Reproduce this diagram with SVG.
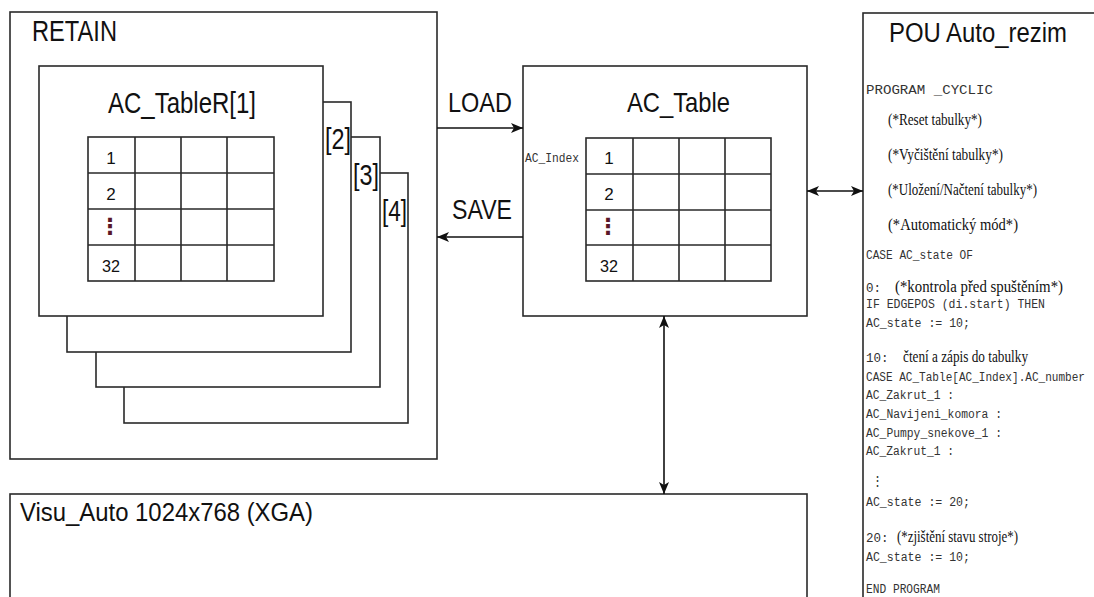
<svg xmlns="http://www.w3.org/2000/svg" width="1094" height="597" viewBox="0 0 1094 597">
<style>
.box{fill:#fff;stroke:#2a2a2a;stroke-width:1.6}
.grid{fill:none;stroke:#2a2a2a;stroke-width:1.6}
.t{font-family:"Liberation Sans",Arial,sans-serif;fill:#111}
.big{font-size:29px}
.num{font-size:17px;text-anchor:middle}
.dots{font-family:"DejaVu Sans",sans-serif;font-size:22px;fill:#5a1628;text-anchor:middle;font-weight:bold}
.m{font-family:"Liberation Mono","Courier New",monospace;font-size:12.5px;fill:#333}
.s{font-family:"Liberation Serif","Times New Roman",serif;font-size:16px;fill:#111}
.c{fill:none;stroke:#111;stroke-width:1.6}
</style>
<defs>
<marker id="ah" viewBox="0 0 12 10" refX="12" refY="5" markerWidth="12" markerHeight="10" markerUnits="userSpaceOnUse" orient="auto-start-reverse">
<path d="M0,0 L12,5 L0,10 L3,5 Z" fill="#111"/>
</marker>
</defs>
<rect width="1094" height="597" fill="#fff"/>

<g id="retain">
<rect class="box" x="10" y="12" width="427" height="447"/>
<text class="t big" x="32" y="41" textLength="85" lengthAdjust="spacingAndGlyphs">RETAIN</text>
</g>

<g id="tableR4">
<rect class="box" x="124" y="173" width="284" height="250"/>
<text class="t big" x="382" y="221" textLength="25" lengthAdjust="spacingAndGlyphs">[4]</text>
</g>
<g id="tableR3">
<rect class="box" x="96" y="137" width="284" height="250"/>
<text class="t big" x="353" y="185" textLength="26" lengthAdjust="spacingAndGlyphs">[3]</text>
</g>
<g id="tableR2">
<rect class="box" x="67" y="102" width="284" height="250"/>
<text class="t big" x="325" y="149" textLength="26" lengthAdjust="spacingAndGlyphs">[2]</text>
</g>
<g id="tableR1">
<rect class="box" x="39" y="66" width="284" height="250"/>
<text class="t big" x="108" y="113" textLength="148" lengthAdjust="spacingAndGlyphs">AC_TableR[1]</text>
<rect class="grid" x="88" y="137" width="186" height="144"/>
<path class="grid" d="M135,137V281M181,137V281M227,137V281M88,173H274M88,209H274M88,245H274"/>
<text class="t num" x="111" y="164">1</text>
<text class="t num" x="111" y="200">2</text>
<text class="dots" x="110" y="234">⋮</text>
<text class="t num" x="111" y="272" textLength="18" lengthAdjust="spacingAndGlyphs">32</text>
</g>

<g id="acTable">
<rect class="box" x="523" y="66" width="284" height="250"/>
<text class="t" x="627" y="112" font-size="28" textLength="103" lengthAdjust="spacingAndGlyphs">AC_Table</text>
<text class="m" x="525" y="162" font-size="11" textLength="54" lengthAdjust="spacingAndGlyphs">AC_Index</text>
<rect class="grid" x="586" y="138" width="185" height="143"/>
<path class="grid" d="M633,138V281M679,138V281M725,138V281M586,174H771M586,210H771M586,245H771"/>
<text class="t num" x="609" y="164">1</text>
<text class="t num" x="609" y="200">2</text>
<text class="dots" x="608" y="234">⋮</text>
<text class="t num" x="609" y="272" textLength="18" lengthAdjust="spacingAndGlyphs">32</text>
</g>

<g id="pou">
<rect class="box" x="863" y="13" width="260" height="620"/>
<text class="t" x="889" y="42" font-size="27" textLength="178" lengthAdjust="spacingAndGlyphs">POU Auto_rezim</text>
<text class="m" x="866" y="94" font-size="14.5" textLength="127" lengthAdjust="spacingAndGlyphs">PROGRAM _CYCLIC</text>
<text class="s" x="888" y="125" textLength="94" lengthAdjust="spacingAndGlyphs">(*Reset tabulky*)</text>
<text class="s" x="888" y="160" textLength="115" lengthAdjust="spacingAndGlyphs">(*Vyčištění tabulky*)</text>
<text class="s" x="888" y="195" textLength="149" lengthAdjust="spacingAndGlyphs">(*Uložení/Načtení tabulky*)</text>
<text class="s" x="888" y="230" textLength="130" lengthAdjust="spacingAndGlyphs">(*Automatický mód*)</text>
<text class="m" x="866" y="259" textLength="107" lengthAdjust="spacingAndGlyphs">CASE AC_state OF</text>
<text class="m" x="866" y="292">0:</text>
<text class="s" x="895" y="292" textLength="168" lengthAdjust="spacingAndGlyphs">(*kontrola před spuštěním*)</text>
<text class="m" x="866" y="308" textLength="179" lengthAdjust="spacingAndGlyphs">IF EDGEPOS (di.start) THEN</text>
<text class="m" x="866" y="327" textLength="104" lengthAdjust="spacingAndGlyphs">AC_state := 10;</text>
<text class="m" x="866" y="362">10:</text>
<text class="s" x="903" y="362" textLength="125" lengthAdjust="spacingAndGlyphs">čtení a zápis do tabulky</text>
<text class="m" x="866" y="381" font-size="11" textLength="219" lengthAdjust="spacingAndGlyphs">CASE AC_Table[AC_Index].AC_number</text>
<text class="m" x="866" y="399" textLength="88" lengthAdjust="spacingAndGlyphs">AC_Zakrut_1 :</text>
<text class="m" x="866" y="418" textLength="136" lengthAdjust="spacingAndGlyphs">AC_Navijeni_komora :</text>
<text class="m" x="866" y="437" textLength="136" lengthAdjust="spacingAndGlyphs">AC_Pumpy_snekove_1 :</text>
<text class="m" x="866" y="455" textLength="88" lengthAdjust="spacingAndGlyphs">AC_Zakrut_1 :</text>
<text class="m" x="877" y="485" font-size="15" fill="#666" text-anchor="middle">⋮</text>
<text class="m" x="866" y="506" textLength="104" lengthAdjust="spacingAndGlyphs">AC_state := 20;</text>
<text class="m" x="866" y="542">20:</text>
<text class="s" x="897" y="542" textLength="121" lengthAdjust="spacingAndGlyphs">(*zjištění stavu stroje*)</text>
<text class="m" x="866" y="561" textLength="104" lengthAdjust="spacingAndGlyphs">AC_state := 10;</text>
<text class="m" x="866" y="593" textLength="74" lengthAdjust="spacingAndGlyphs">END PROGRAM</text>
</g>

<g id="visu">
<rect class="box" x="10" y="494" width="797" height="130"/>
<text class="t" x="20" y="521" font-size="25" textLength="293" lengthAdjust="spacingAndGlyphs">Visu_Auto 1024x768 (XGA)</text>
</g>

<g id="connectors">
<line class="c" x1="437" y1="128" x2="523" y2="128" marker-end="url(#ah)"/>
<line class="c" x1="523" y1="237" x2="437" y2="237" marker-end="url(#ah)"/>
<line class="c" x1="807" y1="191" x2="863" y2="191" marker-start="url(#ah)" marker-end="url(#ah)"/>
<line class="c" x1="664" y1="316" x2="664" y2="494" marker-start="url(#ah)" marker-end="url(#ah)"/>
<text class="t" x="448" y="112" font-size="28" textLength="64" lengthAdjust="spacingAndGlyphs">LOAD</text>
<text class="t" x="452" y="219" font-size="28" textLength="60" lengthAdjust="spacingAndGlyphs">SAVE</text>
</g>
</svg>
